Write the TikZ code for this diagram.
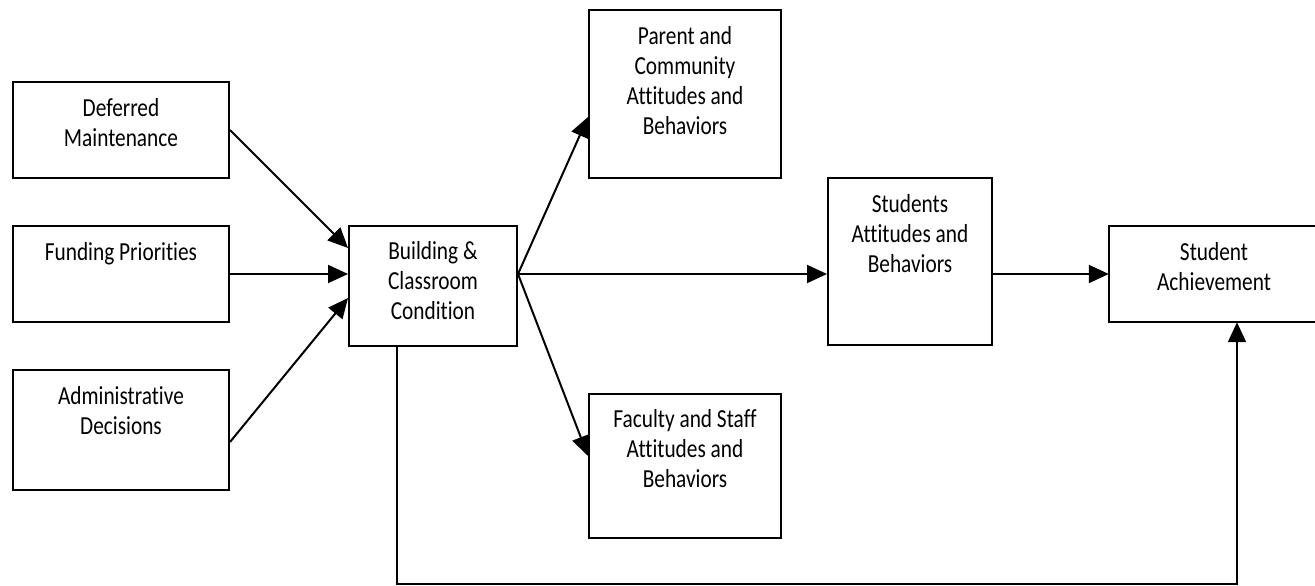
\documentclass[tikz,border=0pt]{standalone}
\usepackage{fontspec}
\setmainfont[FakeStretch=0.82, Ligatures={NoCommon}]{Carlito}
\usetikzlibrary{arrows.meta,calc}

\tikzset{
  stage/.style={draw, line width=2pt, inner sep=0pt},
  caption/.style={anchor=north, align=center, inner sep=0pt,
    font=\fontsize{26pt}{30pt}\selectfont},
  flow/.style={line width=2pt, -{Triangle[length=20pt,width=18pt]}},
}

\begin{document}
\begin{tikzpicture}[x=1pt,y=-1pt]
  \useasboundingbox (0,0) rectangle (1315,586);

  % boxes (centre, size)
  \node[stage, minimum width=216pt, minimum height=96pt]  (dm) at (121,130) {};
  \node[stage, minimum width=216pt, minimum height=96pt]  (fp) at (121,274) {};
  \node[stage, minimum width=216pt, minimum height=120pt] (ad) at (121,430) {};
  \node[stage, minimum width=168pt, minimum height=120pt] (bc) at (433,286) {};
  \node[stage, minimum width=192pt, minimum height=168pt] (pc) at (685,94) {};
  \node[stage, minimum width=192pt, minimum height=144pt] (fs) at (685,466) {};
  \node[stage, minimum width=164pt, minimum height=167pt] (st) at (910,261.5) {};
  % the last box runs on past the right margin: only three sides show
  \node[inner sep=0pt, minimum width=210pt, minimum height=96pt] (sa) at (1214,274) {};
  \draw[line width=2pt] ([xshift=20pt]sa.north east) -- (sa.north west)
    -- (sa.south west) -- ([xshift=20pt]sa.south east);

  % box texts, hung from the top edge
  \node[caption] at ([yshift=-14pt]dm.north) {\strut Deferred\\Maintenance};
  \node[caption] at ([yshift=-14pt]fp.north) {\strut Funding Priorities};
  \node[caption] at ([yshift=-14pt]ad.north) {\strut Administrative\\Decisions};
  \node[caption] at ([yshift=-13pt]bc.north) {\strut Building \&\\Classroom\\Condition};
  \node[caption] at ([yshift=-14pt]pc.north) {\strut Parent and\\Community\\Attitudes and\\Behaviors};
  \node[caption] at ([yshift=-13pt]fs.north) {\strut Faculty and Staff\\Attitudes and\\Behaviors};
  \node[caption] at ([yshift=-14pt]st.north) {\strut Students\\Attitudes and\\Behaviors};
  \node[caption] at ([yshift=-13pt]sa.north) {\strut Student\\Achievement};

  % inputs to building condition
  \draw[flow] (dm.east) -- ([yshift=38pt]bc.west);
  \draw[flow] (fp.east) -- (bc.west |- fp.east);
  \draw[flow] ([yshift=-12pt]ad.east) -- ([yshift=-12pt]bc.west);

  % building condition fans out
  \coordinate (fan) at ([yshift=12pt]bc.east);
  \draw[flow] (fan) -- ([yshift=-23pt]pc.west);
  \draw[flow] (fan) -- ([yshift=10pt]fs.west);
  \draw[flow] (fan) -- (st.west |- fan);
  \draw[flow] (st.east |- fan) -- (sa.west);

  % direct path along the bottom
  \coordinate (lo) at ($(bc.south)+(-36,0)$);
  \coordinate (hi) at ($(sa.south)+(23,0)$);
  \draw[flow] (lo) -- (lo |- 0,584) -- (hi |- 0,584) -- (hi);
\end{tikzpicture}
\end{document}
